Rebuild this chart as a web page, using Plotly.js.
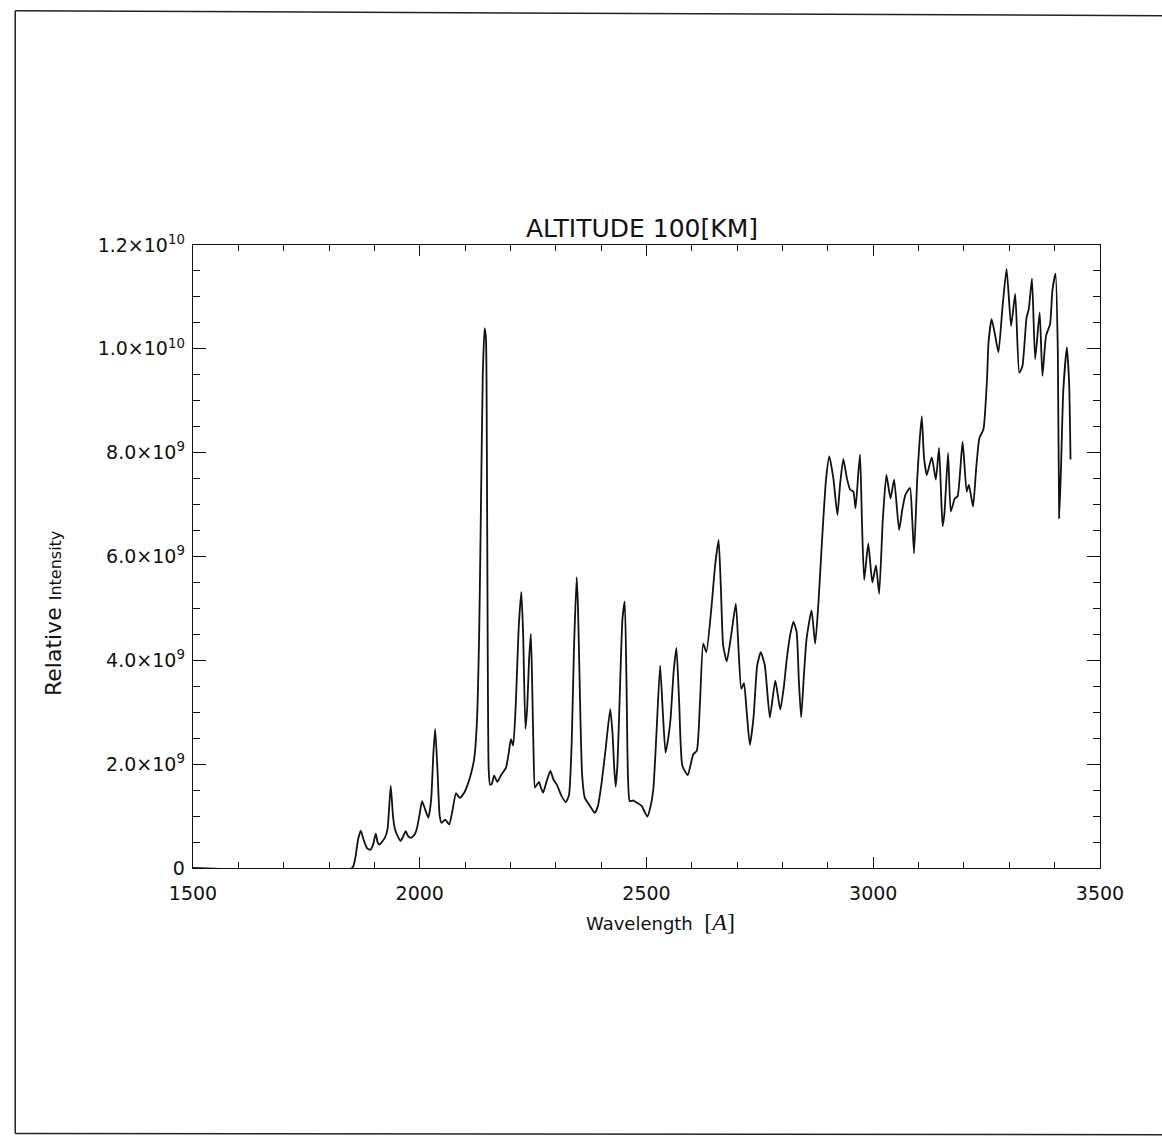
<!DOCTYPE html>
<html>
<head>
<meta charset="utf-8">
<script src="https://cdn.plot.ly/plotly-3.0.1.min.js"></script>
<style>html,body{margin:0;padding:0;background:#fff;}#chart{width:1162px;height:1143px;}</style>
</head>
<body>
<div id="chart"></div>
<script>
// Wavelength in Angstrom
const wavelength = [1500,1851,1858,1864,1870,1876,1884,1891,1897,1903,1907,1911,1923,1929,1936,1941,1945,1951,1958,1964,1969,1974,1981,1989,1994,2000,2005,2011,2019,2025,2030,2034,2039,2044,2048,2056,2065,2072,2080,2088,2098,2107,2114,2120,2126,2131,2135,2139,2143,2146,2148,2150,2152,2155,2159,2164,2171,2180,2190,2196,2201,2206,2212,2218,2224,2228,2233,2237,2241,2245,2248,2251,2254,2258,2263,2267,2272,2279,2288,2295,2302,2312,2322,2329,2335,2340,2346,2349,2354,2358,2364,2375,2386,2393,2401,2410,2420,2425,2429,2432,2436,2442,2447,2452,2456,2459,2463,2471,2478,2489,2496,2502,2508,2515,2522,2530,2536,2542,2548,2553,2560,2566,2572,2579,2591,2603,2611,2618,2625,2632,2643,2651,2659,2664,2669,2677,2687,2697,2703,2709,2715,2721,2728,2736,2744,2752,2761,2772,2784,2795,2803,2809,2817,2824,2831,2836,2841,2847,2853,2864,2872,2879,2885,2890,2896,2903,2912,2921,2927,2934,2942,2949,2956,2961,2967,2971,2975,2980,2989,2998,3006,3013,3021,3029,3038,3046,3057,3064,3071,3081,3086,3090,3097,3102,3107,3112,3118,3129,3138,3145,3150,3153,3157,3165,3171,3180,3186,3197,3206,3211,3220,3227,3234,3243,3251,3254,3261,3268,3276,3285,3294,3304,3313,3322,3329,3338,3343,3350,3357,3367,3373,3381,3390,3395,3402,3407,3410,3414,3419,3427,3432,3435];
// Relative intensity in units of 1e9
const intensity_e9 = [0,0,0.2,0.55,0.72,0.55,0.38,0.35,0.45,0.66,0.5,0.45,0.58,0.75,1.58,1.0,0.76,0.62,0.52,0.62,0.71,0.62,0.58,0.65,0.77,1.05,1.29,1.15,0.97,1.3,2.2,2.68,1.9,1.0,0.87,0.93,0.84,1.1,1.44,1.35,1.45,1.64,1.85,2.1,2.8,4.5,7.0,9.5,10.4,10.2,8.0,4.0,1.9,1.6,1.62,1.78,1.66,1.8,1.93,2.2,2.48,2.36,3.2,4.6,5.32,4.5,2.68,3.1,4.0,4.51,3.5,2.2,1.55,1.6,1.66,1.55,1.45,1.65,1.87,1.7,1.61,1.4,1.27,1.4,2.4,4.2,5.6,5.0,3.0,1.8,1.35,1.2,1.06,1.2,1.64,2.3,3.06,2.6,1.9,1.57,2.0,3.6,4.8,5.13,3.5,1.8,1.29,1.3,1.26,1.2,1.08,0.99,1.15,1.51,2.6,3.9,3.0,2.22,2.5,2.87,3.8,4.24,3.2,1.97,1.79,2.19,2.26,3.2,4.32,4.16,5.0,5.8,6.32,5.4,4.29,3.98,4.5,5.09,4.2,3.45,3.56,3.0,2.37,2.9,3.9,4.16,3.9,2.9,3.61,3.05,3.5,4.0,4.5,4.74,4.55,3.6,2.9,3.7,4.42,4.96,4.32,5.09,6.0,6.74,7.5,7.93,7.51,6.8,7.4,7.88,7.5,7.29,7.25,6.93,7.6,7.96,6.7,5.55,6.25,5.5,5.83,5.28,6.7,7.57,7.12,7.48,6.51,6.9,7.19,7.32,6.7,6.06,7.5,8.2,8.7,7.9,7.57,7.91,7.48,8.09,7.1,6.58,6.83,7.99,6.87,7.12,7.16,8.21,7.25,7.38,6.96,7.7,8.28,8.45,9.44,10.1,10.57,10.3,9.93,10.8,11.54,10.44,11.06,9.54,9.67,10.6,10.77,11.35,9.8,10.7,9.48,10.25,10.48,11.12,11.45,9.96,6.74,7.7,9.19,10.03,9.32,7.87];

const xTickVals = [1500,2000,2500,3000,3500];
const xTickText = ["1500","2000","2500","3000","3500"];
const yTickVals = [0,2e9,4e9,6e9,8e9,1e10,1.2e10];
const yTickText = ["0","2.0×10<sup>9</sup>","4.0×10<sup>9</sup>","6.0×10<sup>9</sup>","8.0×10<sup>9</sup>","1.0×10<sup>10</sup>","1.2×10<sup>10</sup>"];

const intensity = intensity_e9.map(v => v * 1e9);
const font = "DejaVu Sans, Liberation Sans, sans-serif";

const trace = {
  x: wavelength, y: intensity, type: 'scatter', mode: 'lines',
  line: {color: '#111', width: 1.8, shape: 'spline', smoothing: 0.5},
  hoverinfo: 'skip'
};

const layout = {
  width: 1162, height: 1143,
  margin: {l: 193, r: 62, t: 245, b: 275},
  paper_bgcolor: '#fff', plot_bgcolor: '#fff',
  showlegend: false,
  font: {family: font, color: '#111', size: 18},
  xaxis: {
    range: [1500, 3500], tickvals: xTickVals, ticktext: xTickText,
    ticks: 'inside', ticklen: 11, tickwidth: 1.2, tickcolor: '#111',
    minor: {dtick: 100, ticks: 'inside', ticklen: 6, tickwidth: 1, tickcolor: '#111'},
    showline: true, linecolor: '#111', linewidth: 1.3, mirror: 'allticks',
    showgrid: false, zeroline: false, ticklabelstandoff: 8,
    tickfont: {family: font, size: 19, color: '#111'}
  },
  yaxis: {
    range: [0, 1.2e10], tickvals: yTickVals, ticktext: yTickText,
    ticks: 'inside', ticklen: 13, tickwidth: 1.2, tickcolor: '#111',
    minor: {dtick: 5e8, ticks: 'inside', ticklen: 7, tickwidth: 1, tickcolor: '#111'},
    showline: true, linecolor: '#111', linewidth: 1.3, mirror: 'allticks',
    showgrid: false, zeroline: false, ticklabelstandoff: 3,
    tickfont: {family: font, size: 19, color: '#111'}
  },
  annotations: [
    {text: 'ALTITUDE 100[KM]', xref: 'paper', yref: 'paper', x: 0.495, y: 1.027,
     xanchor: 'center', yanchor: 'middle',
     showarrow: false, font: {family: font, size: 25, color: '#111'}},
    {text: 'Wavelength  <span style="font-family:Liberation Serif, DejaVu Serif, serif;font-size:24px">[<i>A</i>]</span>',
     xref: 'paper', yref: 'paper', x: 0.515, y: -0.087,
     xanchor: 'center', yanchor: 'middle',
     showarrow: false, font: {family: font, size: 18, color: '#111'}},
    {text: 'Relative <span style="font-size:16px">Intensity</span>', xref: 'paper', yref: 'paper',
     x: -0.153, y: 0.408, xanchor: 'center', yanchor: 'middle', textangle: -90, showarrow: false,
     font: {family: font, size: 22, color: '#111'}}
  ],
  shapes: [
    {type: 'line', xref: 'paper', yref: 'paper', x0: -0.196, x1: 1.07, y0: 1.376, y1: 1.368, line: {color: '#222', width: 1.5}},
    {type: 'line', xref: 'paper', yref: 'paper', x0: -0.196, x1: 1.07, y0: -0.426, y1: -0.428, line: {color: '#222', width: 1.5}},
    {type: 'line', xref: 'paper', yref: 'paper', x0: -0.196, x1: -0.196, y0: 1.376, y1: -0.426, line: {color: '#222', width: 1.5}}
  ]
};

Plotly.newPlot('chart', [trace], layout, {staticPlot: true, displayModeBar: false});
</script>
</body>
</html>
